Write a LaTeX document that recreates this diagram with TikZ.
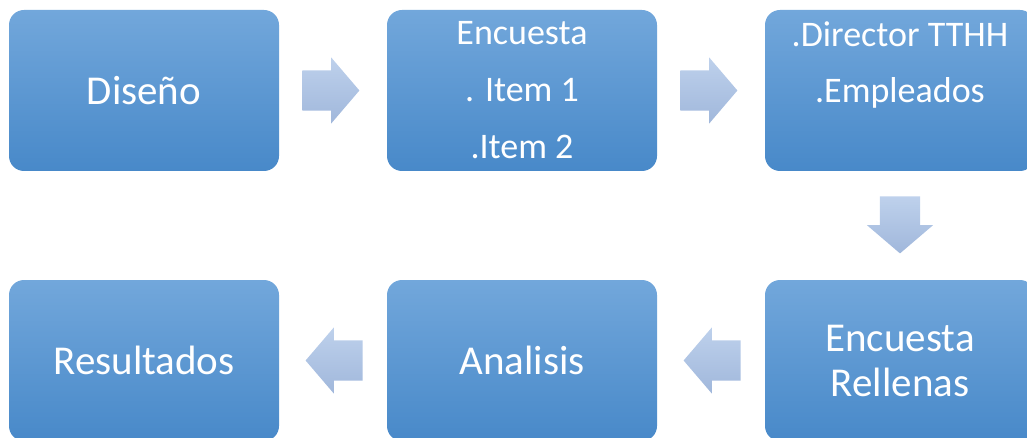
\documentclass[tikz,border=0pt]{standalone}
\usepackage{fontspec}
\setmainfont{Carlito}
\usepackage{tikz}
\usetikzlibrary{positioning, shapes.arrows}
\definecolor{boxtop}{RGB}{114,167,219}
\definecolor{boxmid}{RGB}{91,155,213}
\definecolor{boxbot}{RGB}{72,137,201}
\definecolor{arrtop}{RGB}{190,209,236}
\definecolor{arrbot}{RGB}{160,183,219}

\begin{document}
\begin{tikzpicture}[x=1pt, y=-1pt]
\tikzstyle{etapa}=[rounded corners=15pt, minimum width=270pt, minimum height=161pt, inner sep=0pt,
  top color=boxtop, middle color=boxmid, bottom color=boxbot, text=white, align=center];
\tikzstyle{flecha}=[single arrow, anchor=tail, minimum height=57pt,
  single arrow head extend=13pt, single arrow tip angle=99, top color=arrtop, bottom color=arrbot];
\tikzstyle{flechah}=[flecha, inner xsep=0pt, inner ysep=20pt];
\tikzstyle{flechav}=[flecha, inner xsep=20pt, inner ysep=0pt, shape border rotate=270];
\path[use as bounding box, clip] (0,0) rectangle (1027,438);
\path (144, 90.5) node (diseno)[etapa, font=\fontsize{41}{45}\selectfont] {Diseño}
(522, 90.5) node (encuesta)[etapa, font=\fontsize{36}{57}\selectfont] {Encuesta\\. Item 1\\.Item 2}
(900, 90.5) node (personal)[etapa, font=\fontsize{36}{56}\selectfont] {.Director TTHH\\.Empleados\\\mbox{}}
(900, 360.5) node (rellenas)[etapa, font=\fontsize{41}{45}\selectfont] {Encuesta\\Rellenas}
(522, 360.5) node (analisis)[etapa, font=\fontsize{41}{45}\selectfont] {Analisis}
(144, 360.5) node (result)[etapa, font=\fontsize{41}{45}\selectfont] {Resultados};
\path (diseno.east) ++(23, 0) node (f1)[flechah] {};
\path (encuesta.east) ++(23, 0) node (f2)[flechah] {};
\path (personal.south) ++(0, 25) node (f3)[flechav] {};
\path (rellenas.west) ++(-24, 0) node (f4)[flechah, shape border rotate=180] {};
\path (analisis.west) ++(-24, 0) node (f5)[flechah, shape border rotate=180] {};
\end{tikzpicture}
\end{document}
